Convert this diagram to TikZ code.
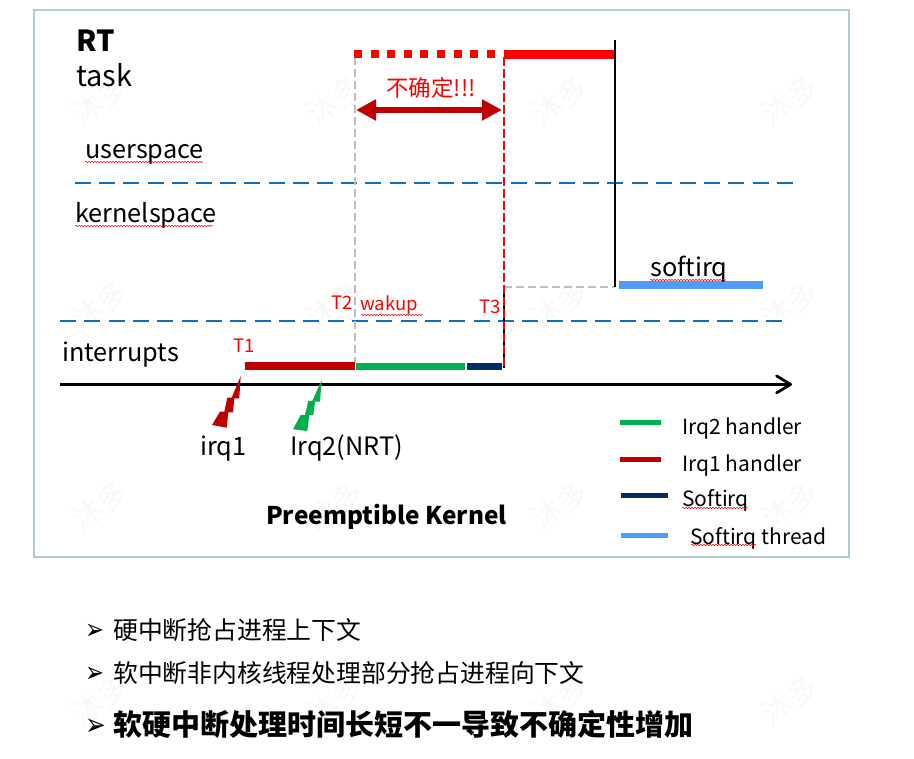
\documentclass[tikz,border=0pt]{standalone}
\usepackage{graphicx}
\usepackage{fontspec}
\setmainfont{Noto Sans CJK SC}
\newfontfamily\dv{DejaVu Sans}
\usetikzlibrary{arrows.meta,decorations.pathmorphing}
\definecolor{frame}{HTML}{AFC9D5}
\definecolor{dashblue}{HTML}{0F6FBF}
\definecolor{darkred}{HTML}{C00000}
\definecolor{mygreen}{HTML}{00B050}
\definecolor{navy}{HTML}{002F66}
\definecolor{skyb}{HTML}{4D9CF5}
\definecolor{greyd}{HTML}{BFBFBF}
\definecolor{wm}{HTML}{F8F8F8}
\tikzset{
 txt/.style={inner sep=0pt,anchor=base west,text=black,font=\fontsize{25.3}{28}\selectfont},
 big/.style={inner sep=0pt,anchor=base west,text=black,font=\fontsize{29}{32}\selectfont},
 lgd/.style={inner sep=0pt,anchor=base west,text=black,font=\fontsize{21}{24}\selectfont},
 redt/.style={inner sep=0pt,anchor=base west,text=red,font=\fontsize{18.5}{22}\selectfont},
 bul/.style={inner sep=0pt,anchor=base west,text=black,font=\fontsize{24.8}{28}\selectfont},
 sep/.style={dashblue,line width=1.5pt},
 bar/.style={line width=#1},
 wavy/.style={red,line width=.5pt,decorate,decoration={snake,amplitude=.7pt,segment length=3pt}},
 wmk/.style={inner sep=0pt,text=wm,rotate=35,font=\fontsize{30}{32}\selectfont},
}
\begin{document}
\begin{tikzpicture}[x=1pt,y=-1pt]
\useasboundingbox (0,0) rectangle (914,759);
% watermark
\foreach \y in {100,305,505,700}
  \foreach \x in {100,335,560,790}
    \node[wmk] at (\x,\y) {沐多};
\draw[frame,line width=2pt] (34,10) rectangle (849,557);
% coordinates
\coordinate (s1a) at (75,183); \coordinate (s1b) at (793,183);
\coordinate (s2a) at (60,321); \coordinate (s2b) at (782,321);
\coordinate (axa) at (60,384.4); \coordinate (axb) at (792,384.4);
\coordinate (t2top) at (355,57); \coordinate (t2bot) at (355,363);
\coordinate (t3top) at (504,57); \coordinate (t3bot) at (504,368);
\coordinate (t3blk) at (504,294);
\coordinate (t3mid) at (504,287); \coordinate (vb) at (615,287);
\coordinate (vt) at (615,40);
\coordinate (dotA) at (354,53.8); \coordinate (dotB) at (496,53.8);
\coordinate (rtA) at (504,54.5); \coordinate (rtB) at (615,54.5);
\coordinate (arA) at (356,110); \coordinate (arB) at (502,110);
\coordinate (b1a) at (245,366); \coordinate (b1b) at (355,366);
\coordinate (b2a) at (356,366.5); \coordinate (b2b) at (465,366.5);
\coordinate (b3a) at (467,366.5); \coordinate (b3b) at (502,366.5);
\coordinate (b4a) at (619,285); \coordinate (b4b) at (763,285);
% separators and axis
\draw[sep,dash pattern=on 16pt off 8.2pt] (s1a) -- (s1b);
\draw[sep,dash pattern=on 16pt off 8.34pt] (s2a) -- (s2b);
\draw[black,line width=2.4pt,-{Straight Barb[length=14pt,width=17pt,line width=2.8pt,round]}] (axa) -- (axb);
% dashed verticals
\draw[greyd,line width=1.5pt,dash pattern=on 8pt off 4pt] (t2top) -- (t2bot);
\draw[greyd,line width=1.5pt,dash pattern=on 8pt off 4pt] (t3mid) -- (vb);
\draw[black,line width=2pt,dash pattern=on 3pt off 9pt] (t3blk) -- (t3bot);
\draw[red,line width=2pt,dash pattern=on 9pt off 3pt] (t3top) -- (t3bot);
% task line
\draw[red,bar=8pt,dash pattern=on 8pt off 8.6pt] (dotA) -- (dotB);
\draw[red,bar=9pt] (rtA) -- (rtB);
\draw[black,line width=1.6pt] (vt) -- (vb);
% uncertainty
\draw[darkred,line width=6.5pt,{Triangle[length=20pt,width=20pt]}-{Triangle[length=20pt,width=20pt]}] (arA) -- (arB);
% bars
\draw[darkred,bar=8pt] (b1a) -- (b1b);
\draw[mygreen,bar=7.5pt] (b2a) -- (b2b);
\draw[navy,bar=7pt] (b3a) -- (b3b);
\draw[skyb,bar=8pt] (b4a) -- (b4b);
% lightning
\fill[darkred] (240.7,376) -- (239.3,398.3) -- (234.3,398.3) -- (233,412.3) -- (228.3,412.3) -- (226.7,427.7) -- (212,425) -- (220,411.7) -- (224.3,411.7) -- (227.3,397.7) -- (231.7,397.7) -- cycle;
\fill[mygreen] (321.7,380) -- (320,401.7) -- (315,401.7) -- (313.3,415) -- (309.3,415) -- (307.3,431) -- (293,429.3) -- (300.7,415) -- (305,415) -- (308.3,401) -- (312.3,401) -- cycle;
% labels
\node[big,font=\bfseries\fontsize{29}{32}\selectfont] (rt) at (76,51.5) {RT};
\node[big] (task) at (76,87) {task};
\node[txt] (us) at (85,158.5) {userspace};
\node[txt] (ks) at (75,222.5) {kernelspace};
\node[txt] (si) at (650,276.5) {softirq};
\node[txt] (int) at (62,361.5) {interrupts};
\node[txt] (ir1) at (200,456) {irq1};
\node[txt] (ir2) at (290,456) {Irq2(NRT)};
\node[inner sep=0pt,anchor=base west,font=\bfseries\fontsize{24.4}{28}\selectfont] (pk) at (266,525) {Preemptible Kernel};
\node[inner sep=0pt,anchor=base,text=red,font=\fontsize{22.5}{24}\selectfont] (bq) at (431,97) {不确定!!!};
\node[redt] (t1) at (233,353) {T1};
\node[redt] (t2) at (331,310) {T2};
\node[redt] (wk) at (360,311) {wakup};
\node[redt] (t3) at (479,314) {T3};
% legend
\draw[mygreen,bar=5pt] (620,423) -- (661,423);
\draw[darkred,bar=5pt] (620,460) -- (661,460);
\draw[navy,bar=5pt] (621,496) -- (668,496);
\draw[skyb,bar=5pt] (621,535) -- (668,535);
\node[lgd] (l1) at (682,435) {Irq2 handler};
\node[lgd] (l2) at (682,472) {Irq1 handler};
\node[lgd] (l3) at (682,507) {Softirq};
\node[lgd] (l4) at (690,544) {Softirq thread};
% spell-check underlines
\draw[wavy] (85,162) -- (203,162);
\draw[wavy] (75,226) -- (213,226);
\draw[wavy] (650,280) -- (726,280);
\draw[wavy] (361,315) -- (423,315);
\draw[wavy] (682,508) -- (748,508);
\draw[wavy] (691,545) -- (756,545);
% bullets
\node[bul] (a1) at (85,639) {\scalebox{.78}[1]{\dv\fontsize{29}{30}\selectfont ➢}};
\node[bul] (a2) at (85,682) {\scalebox{.78}[1]{\dv\fontsize{29}{30}\selectfont ➢}};
\node[bul] (a3) at (85,735) {\scalebox{.8}[1]{\dv\bfseries\fontsize{31}{32}\selectfont ➢}};
\node[bul] (b1) at (113,639) {硬中断抢占进程上下文};
\node[bul] (b2) at (113,682) {软中断非内核线程处理部分抢占进程向下文};
\node[bul,font=\bfseries\fontsize{29}{32}\selectfont] (b3) at (113,735) {软硬中断处理时间长短不一导致不确定性增加};
\end{tikzpicture}
\end{document}
